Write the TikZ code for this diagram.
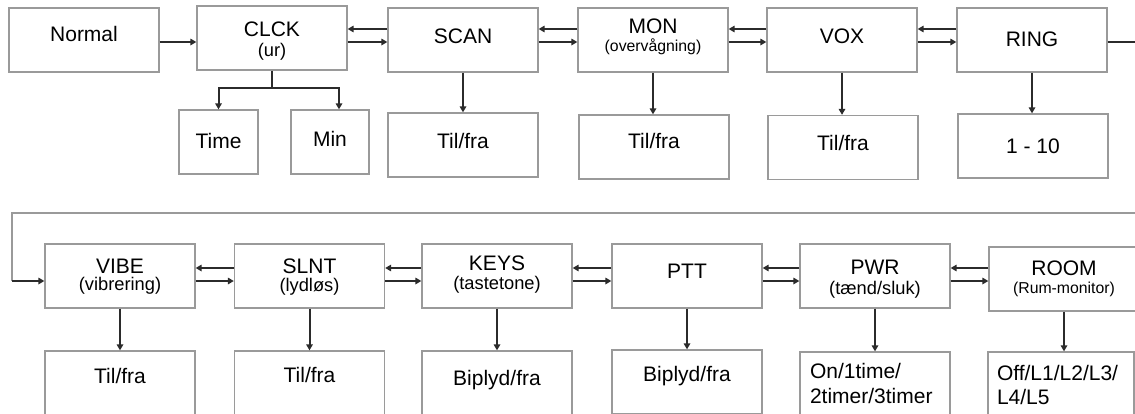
\documentclass[tikz,border=0pt]{standalone}
\usepackage{fontspec}
\setmainfont{Liberation Sans}
\usetikzlibrary{arrows.meta}
\definecolor{boxgray}{HTML}{9A9A9A}
\definecolor{arrowdark}{HTML}{2B2B2B}
\newcommand\fbig{\fontsize{21}{24}\selectfont}
\newcommand\fmed{\fontsize{18.3}{21}\selectfont}
\newcommand\fsm{\fontsize{15.8}{18}\selectfont}
\newcommand\twoc[3]{\vtop{\baselineskip=#3\lineskiplimit=-1000pt\halign{\hfil##\hfil\cr#1\cr#2\cr}}}
\newcommand\twol[4]{\vtop{\baselineskip=#4\lineskiplimit=-1000pt\hbox to #1{#2\hfil}\hbox to #1{#3\hfil}}}
\newcommand\arrpair[4]{%
  \path ([yshift=#3]#2.west) coordinate (tmpu);
  \draw[arr] (tmpu) -- (tmpu -| #1.east);
  \path ([yshift=#4]#2.west) coordinate (tmpl);
  \draw[arr] (tmpl -| #1.east) -- (tmpl);}
\begin{document}
\begin{tikzpicture}[x=1pt,y=-1pt,
  box/.style={draw=boxgray, line width=1.3pt, minimum width=150pt, minimum height=64pt,
    inner sep=0pt, text height=15pt, font=\fbig, text=black},
  con/.style={draw=arrowdark, line width=2pt},
  arr/.style={con, -{Triangle[length=6pt,width=6.5pt]}},
  loopline/.style={draw=boxgray, line width=1.3pt}]
\useasboundingbox (0,0) rectangle (1135,413);
\fill[white] (0,0) rectangle (1135,413);

% top row
\node[box, text depth=13pt] (normal) at (84,40) {Normal};
\node[box, text depth=19pt] (clck) at (272,38) {\twoc{\fbig CLCK}{\fmed (ur)}{20pt}};
\node[box, minimum width=79pt, text depth=3pt] (time) at (218.5,142) {Time};
\node[box, minimum width=78pt, text depth=7pt] (min) at (330,142) {Min};
\node[box, text depth=8pt] (scan) at (463,40) {SCAN};
\node[box, text depth=8pt] (scan-s) at (463,145) {Til/fra};
\node[box, text depth=29pt] (mon) at (653,40) {\twoc{\fbig MON}{\fsm (overvågning)}{18pt}};
\node[box, text depth=12pt] (mon-s) at (654,147) {Til/fra};
\node[box, text depth=8pt] (vox) at (842,40) {VOX};
\node[box, text depth=9pt] (vox-s) at (843,147.5) {Til/fra};
\node[box, text depth=3pt] (ring) at (1032,40) {RING};
\node[box, text depth=0pt] (ring-s) at (1033,146) {1 - 10};

% bottom row
\node[box, text depth=21pt] (vibe) at (120,276) {\twoc{\fbig VIBE}{\fmed (vibrering)}{17pt}};
\node[box, text depth=14pt] (vibe-s) at (120,383) {Til/fra};
\node[box, text depth=21pt] (slnt) at (309.5,276) {\twoc{\fbig SLNT}{\fmed (lydløs)}{18pt}};
\node[box, text depth=16pt] (slnt-s) at (309.5,383) {Til/fra};
\node[box, text depth=27pt] (keys) at (497,276) {\twoc{\fbig KEYS}{\fmed (tastetone)}{19pt}};
\node[box, text depth=11pt] (keys-s) at (497,383) {Biplyd/fra};
\node[box, text depth=11pt] (ptt) at (687,276) {PTT};
\node[box, text depth=16pt] (ptt-s) at (687,382) {Biplyd/fra};
\node[box, text depth=19pt] (pwr) at (875,276) {\twoc{\fbig PWR}{\fmed (tænd/sluk)}{20pt}};
\node[box, inner xsep=10pt, text depth=27pt] (pwr-s) at (875,384) {\twol{130pt}{On/1time/}{2timer/3timer}{25pt}};
\node[box, text depth=23pt] (room) at (1064,279) {\twoc{\fbig ROOM}{\fsm (Rum-monitor)}{18pt}};
\node[box, minimum width=146pt, inner xsep=9pt, text depth=23pt] (room-s) at (1061,384) {\twol{128pt}{Off/L1/L2/L3/}{L4/L5}{24pt}};

% top row horizontal arrows
\path ([yshift=-2pt]normal.east) coordinate (n1);
\draw[arr] (n1) -- (n1 -| clck.west);
\arrpair{clck}{scan}{11pt}{-2pt}
\arrpair{scan}{mon}{11pt}{-2pt}
\arrpair{mon}{vox}{11pt}{-2pt}
\arrpair{vox}{ring}{11pt}{-2pt}

% bottom row horizontal arrows
\arrpair{vibe}{slnt}{8pt}{-5pt}
\arrpair{slnt}{keys}{8pt}{-5pt}
\arrpair{keys}{ptt}{8pt}{-5pt}
\arrpair{ptt}{pwr}{8pt}{-5pt}
\arrpair{pwr}{room}{11pt}{-2pt}

% vertical arrows
\foreach \a/\b in {scan/scan-s, mon/mon-s, vox/vox-s, ring/ring-s, vibe/vibe-s,
                   slnt/slnt-s, keys/keys-s, ptt/ptt-s, pwr/pwr-s, room/room-s}
  \draw[arr] (\a.south) -- (\a.south |- \b.north);

% clock branch
\coordinate (cj) at (272,88);
\draw[con] (clck.south) -- (cj);
\draw[arr] (cj) -| (time.north);
\draw[arr] (cj) -| ([xshift=9pt]min.north);

% loop from RING to VIBE
\path ([yshift=-2pt]ring.east) coordinate (re);
\coordinate (loopR) at (1142,42);
\coordinate (loopTR) at (1142,213);
\coordinate (loopTL) at (12,213);
\coordinate (loopBL) at (12,281);
\draw[con] (re) -- (loopR);
\draw[loopline] (loopR) -- (loopTR) -- (loopTL) -- (loopBL);
\draw[arr] (loopBL) -- (loopBL -| vibe.west);
\end{tikzpicture}
\end{document}
